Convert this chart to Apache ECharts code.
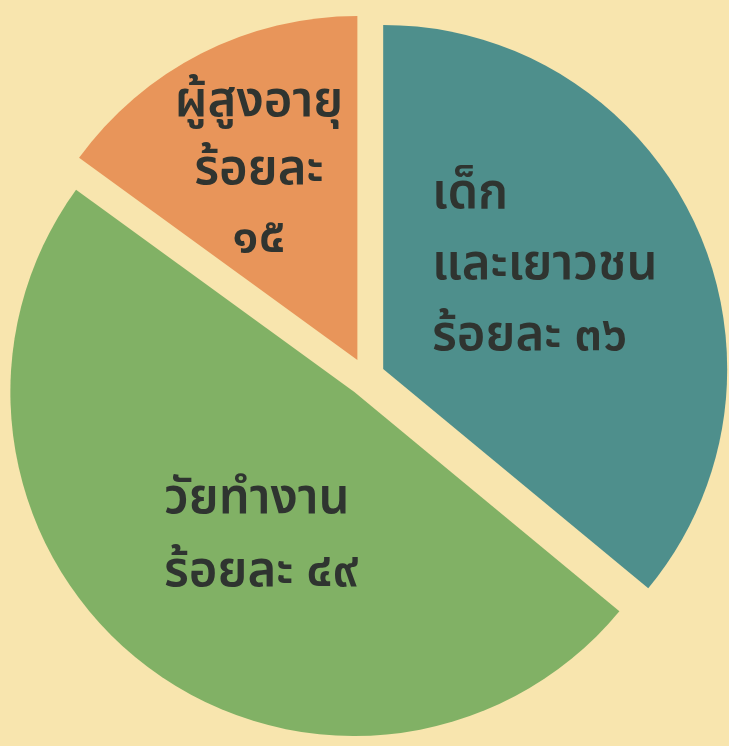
<!DOCTYPE html>
<html>
<head>
<meta charset="utf-8">
<script src="https://cdn.jsdelivr.net/npm/echarts@6/dist/echarts.min.js"></script>
<style>
  html, body { margin: 0; padding: 0; background: #f8e5ae; }
  #chart { width: 729px; height: 746px; }
</style>
</head>
<body>
<div id="chart"></div>
<script>
// Population share by age group (percent)
const groups = ['เด็ก\nและเยาวชน', 'วัยทำงาน', 'ผู้สูงอายุ'];
const shares = [36, 49, 15];

const sliceColors = ['#4e8f8c', '#81b165', '#e8955a'];
// caption placement per slice: [x, y, align]
const labelAnchors = [[432, 269, 'left'], [164, 540, 'left'], [259, 174, 'center']];
const labelLineHeights = [71, 73, 68];
// the small slice puts its number on its own line
const numberOnNewLine = [false, false, true];

const thaiDigits = '๐๑๒๓๔๕๖๗๘๙';
function toThaiNumber(n) {
  return String(n).replace(/[0-9]/g, d => thaiDigits[+d]);
}

const pieCenter = [366, 377];
const pieRadius = 344;

const chart = echarts.init(document.getElementById('chart'), null, { renderer: 'canvas' });

const sliceData = groups.map((name, i) => ({
  name: name,
  value: shares[i],
  selected: true,
  itemStyle: { color: sliceColors[i] }
}));

const captions = groups.map((name, i) => {
  const a = labelAnchors[i];
  return {
    type: 'text',
    x: a[0],
    y: a[1],
    silent: true,
    z: 10,
    style: {
      text: name + '\nร้อยละ' + (numberOnNewLine[i] ? '\n' : ' ') + toThaiNumber(shares[i]),
      fill: '#2f3430',
      fontSize: 49,
      fontWeight: 600,
      fontFamily: '"Noto Sans Thai", "Noto Sans", "DejaVu Sans", sans-serif',
      lineHeight: labelLineHeights[i],
      align: a[2],
      verticalAlign: 'middle'
    }
  };
});

chart.setOption({
  backgroundColor: '#f8e5ae',
  animation: false,
  graphic: captions,
  series: [{
    type: 'pie',
    center: pieCenter,
    radius: [0, pieRadius],
    startAngle: 90,
    clockwise: true,
    selectedMode: 'multiple',
    selectedOffset: 19,
    silent: true,
    label: { show: false },
    labelLine: { show: false },
    itemStyle: { borderWidth: 0 },
    select: { itemStyle: { borderWidth: 0 } },
    data: sliceData
  }]
});
</script>
</body>
</html>
